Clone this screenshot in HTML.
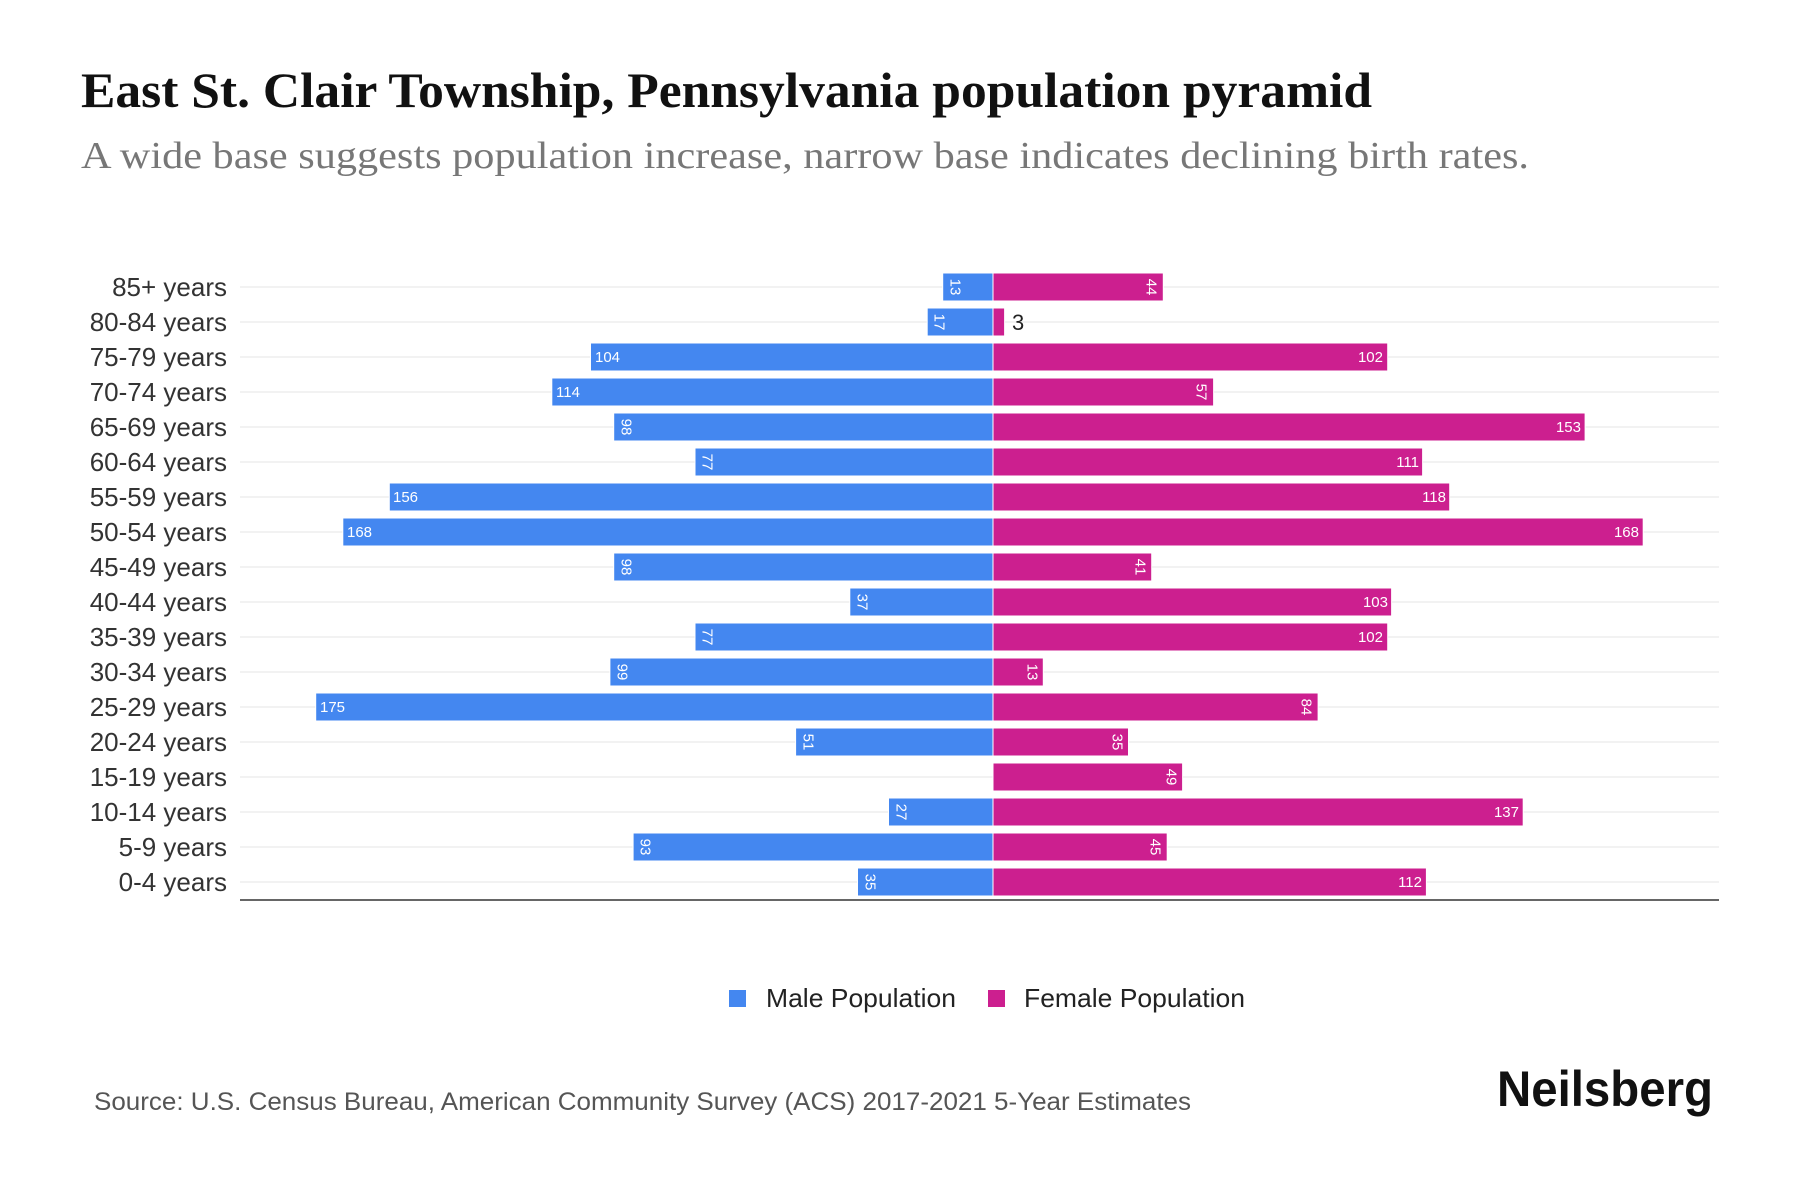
<!DOCTYPE html>
<html><head><meta charset="utf-8"><style>html,body{margin:0;padding:0;background:#fff}svg{display:block}</style></head>
<body>
<svg width="1800" height="1200" viewBox="0 0 1800 1200" xmlns="http://www.w3.org/2000/svg">
<rect width="1800" height="1200" fill="#fff"/>
<text x="81" y="107" font-family="Liberation Serif, serif" font-weight="bold" font-size="50" fill="#111" textLength="1291" lengthAdjust="spacingAndGlyphs">East St. Clair Township, Pennsylvania population pyramid</text>
<text x="81" y="168" font-family="Liberation Serif, serif" font-size="38" fill="#777" textLength="1448" lengthAdjust="spacingAndGlyphs">A wide base suggests population increase, narrow base indicates declining birth rates.</text>
<g stroke="#eeeeee" stroke-width="1.5">
<line x1="240" x2="1719" y1="287" y2="287"/><line x1="240" x2="1719" y1="322" y2="322"/><line x1="240" x2="1719" y1="357" y2="357"/><line x1="240" x2="1719" y1="392" y2="392"/><line x1="240" x2="1719" y1="427" y2="427"/><line x1="240" x2="1719" y1="462" y2="462"/><line x1="240" x2="1719" y1="497" y2="497"/><line x1="240" x2="1719" y1="532" y2="532"/><line x1="240" x2="1719" y1="567" y2="567"/><line x1="240" x2="1719" y1="602" y2="602"/><line x1="240" x2="1719" y1="637" y2="637"/><line x1="240" x2="1719" y1="672" y2="672"/><line x1="240" x2="1719" y1="707" y2="707"/><line x1="240" x2="1719" y1="742" y2="742"/><line x1="240" x2="1719" y1="777" y2="777"/><line x1="240" x2="1719" y1="812" y2="812"/><line x1="240" x2="1719" y1="847" y2="847"/><line x1="240" x2="1719" y1="882" y2="882"/>
</g>
<g font-family="Liberation Sans, sans-serif" font-size="26" fill="#333" text-anchor="end">
<text x="227" y="296">85+ years</text><text x="227" y="331">80-84 years</text><text x="227" y="366">75-79 years</text><text x="227" y="401">70-74 years</text><text x="227" y="436">65-69 years</text><text x="227" y="471">60-64 years</text><text x="227" y="506">55-59 years</text><text x="227" y="541">50-54 years</text><text x="227" y="576">45-49 years</text><text x="227" y="611">40-44 years</text><text x="227" y="646">35-39 years</text><text x="227" y="681">30-34 years</text><text x="227" y="716">25-29 years</text><text x="227" y="751">20-24 years</text><text x="227" y="786">15-19 years</text><text x="227" y="821">10-14 years</text><text x="227" y="856">5-9 years</text><text x="227" y="891">0-4 years</text>
</g>
<g fill="#4487f0" stroke="#fff" stroke-width="1">
<rect x="942.7" y="273" width="50.3" height="28"/>
<rect x="927.2" y="308" width="65.8" height="28"/>
<rect x="590.5" y="343" width="402.5" height="28"/>
<rect x="551.8" y="378" width="441.2" height="28"/>
<rect x="613.7" y="413" width="379.3" height="28"/>
<rect x="695" y="448" width="298" height="28"/>
<rect x="389.3" y="483" width="603.7" height="28"/>
<rect x="342.8" y="518" width="650.2" height="28"/>
<rect x="613.7" y="553" width="379.3" height="28"/>
<rect x="849.8" y="588" width="143.2" height="28"/>
<rect x="695" y="623" width="298" height="28"/>
<rect x="609.9" y="658" width="383.1" height="28"/>
<rect x="315.7" y="693" width="677.3" height="28"/>
<rect x="795.6" y="728" width="197.4" height="28"/>
<rect x="888.5" y="798" width="104.5" height="28"/>
<rect x="633.1" y="833" width="359.9" height="28"/>
<rect x="857.5" y="868" width="135.5" height="28"/>
</g>
<g fill="#cc1f8f" stroke="#fff" stroke-width="1">
<rect x="993" y="273" width="170.3" height="28"/>
<rect x="993" y="308" width="11.6" height="28"/>
<rect x="993" y="343" width="394.7" height="28"/>
<rect x="993" y="378" width="220.6" height="28"/>
<rect x="993" y="413" width="592.1" height="28"/>
<rect x="993" y="448" width="429.6" height="28"/>
<rect x="993" y="483" width="456.7" height="28"/>
<rect x="993" y="518" width="650.2" height="28"/>
<rect x="993" y="553" width="158.7" height="28"/>
<rect x="993" y="588" width="398.6" height="28"/>
<rect x="993" y="623" width="394.7" height="28"/>
<rect x="993" y="658" width="50.3" height="28"/>
<rect x="993" y="693" width="325.1" height="28"/>
<rect x="993" y="728" width="135.5" height="28"/>
<rect x="993" y="763" width="189.6" height="28"/>
<rect x="993" y="798" width="530.2" height="28"/>
<rect x="993" y="833" width="174.2" height="28"/>
<rect x="993" y="868" width="433.4" height="28"/>
</g>
<g font-family="Liberation Sans, sans-serif" font-size="15" fill="#fff">
<text x="595" y="362">104</text>
<text x="556" y="397">114</text>
<text x="393" y="502">156</text>
<text x="347" y="537">168</text>
<text x="320" y="712">175</text>
<g text-anchor="end">
<text x="1383" y="362">102</text>
<text x="1581" y="432">153</text>
<text x="1419" y="467">111</text>
<text x="1446" y="502">118</text>
<text x="1639" y="537">168</text>
<text x="1388" y="607">103</text>
<text x="1383" y="642">102</text>
<text x="1519" y="817">137</text>
<text x="1422" y="887">112</text>
</g>
<g text-anchor="middle" dominant-baseline="central">
<text transform="translate(955,287) rotate(90)">13</text>
<text transform="translate(1151,287) rotate(90)">44</text>
<text transform="translate(939,322) rotate(90)">17</text>
<text transform="translate(1201,392) rotate(90)">57</text>
<text transform="translate(626,427) rotate(90)">98</text>
<text transform="translate(707,462) rotate(90)">77</text>
<text transform="translate(626,567) rotate(90)">98</text>
<text transform="translate(1140,567) rotate(90)">41</text>
<text transform="translate(862,602) rotate(90)">37</text>
<text transform="translate(707,637) rotate(90)">77</text>
<text transform="translate(622,672) rotate(90)">99</text>
<text transform="translate(1032,672) rotate(90)">13</text>
<text transform="translate(1306,707) rotate(90)">84</text>
<text transform="translate(808,742) rotate(90)">51</text>
<text transform="translate(1117,742) rotate(90)">35</text>
<text transform="translate(1171,777) rotate(90)">49</text>
<text transform="translate(901,812) rotate(90)">27</text>
<text transform="translate(645,847) rotate(90)">93</text>
<text transform="translate(1155,847) rotate(90)">45</text>
<text transform="translate(870,882) rotate(90)">35</text>
</g>
</g>
<text x="1012" y="330" font-family="Liberation Sans, sans-serif" font-size="22" fill="#222">3</text>
<line x1="240" x2="1719" y1="900" y2="900" stroke="#333" stroke-width="1.5"/>
<g font-family="Liberation Sans, sans-serif" font-size="26" fill="#222">
<rect x="729" y="990" width="17" height="17" fill="#4487f0"/>
<text x="766" y="1007" textLength="190" lengthAdjust="spacingAndGlyphs">Male Population</text>
<rect x="988" y="990" width="17" height="17" fill="#cc1f8f"/>
<text x="1024" y="1007" textLength="221" lengthAdjust="spacingAndGlyphs">Female Population</text>
</g>
<text x="94" y="1110" font-family="Liberation Sans, sans-serif" font-size="25" fill="#555" textLength="1097" lengthAdjust="spacingAndGlyphs">Source: U.S. Census Bureau, American Community Survey (ACS) 2017-2021 5-Year Estimates</text>
<text x="1497" y="1106" font-family="Liberation Sans, sans-serif" font-weight="bold" font-size="50" fill="#111" textLength="216" lengthAdjust="spacingAndGlyphs">Neilsberg</text>
</svg>
</body></html>
